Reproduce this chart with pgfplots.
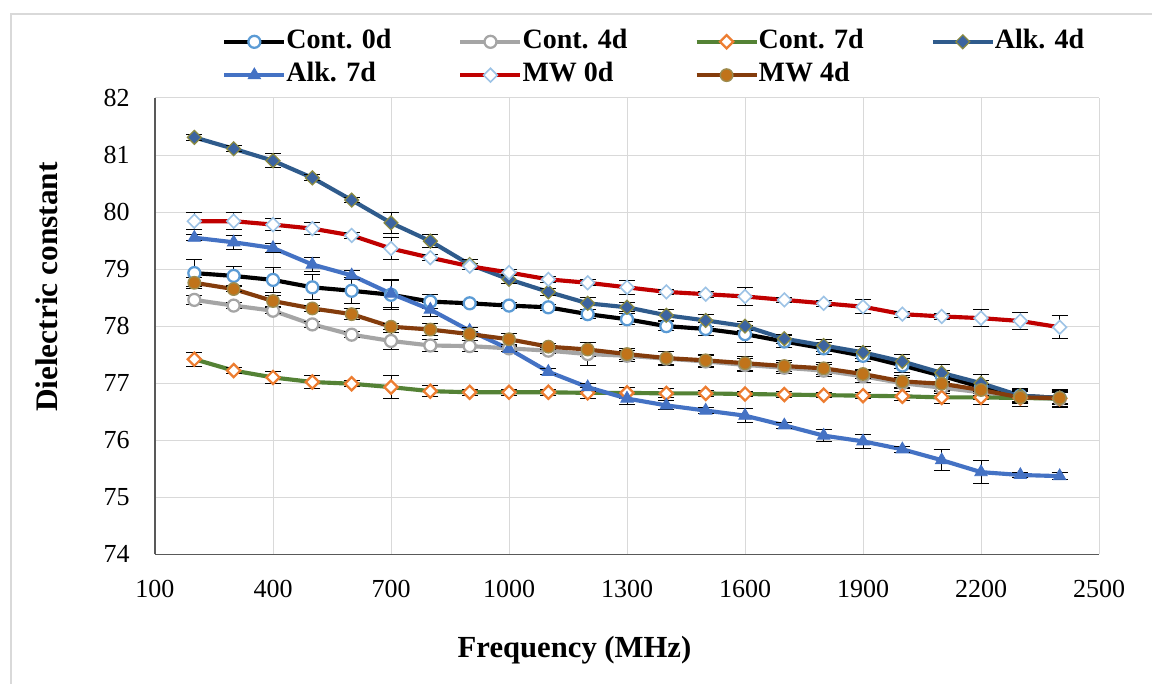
\documentclass[border=0pt]{standalone}
\usepackage{fontspec}
\setmainfont{Liberation Serif}
\usepackage{pgfplots}
\pgfplotsset{compat=1.18}
\usepackage{pgfplotstable}

\definecolor{gridc}{HTML}{D9D9D9}
\definecolor{axc}{HTML}{595959}
\definecolor{framec}{HTML}{D9D9D9}
\definecolor{c0mark}{HTML}{5B9BD5}
\definecolor{c4line}{HTML}{A5A5A5}
\definecolor{c7line}{HTML}{548235}
\definecolor{c7mark}{HTML}{ED7D31}
\definecolor{a4line}{HTML}{2F5B8C}
\definecolor{a4mark}{HTML}{3C64A0}
\definecolor{a4edge}{HTML}{8A8A40}
\definecolor{a7line}{HTML}{4472C4}
\definecolor{m0line}{HTML}{C00000}
\definecolor{m0mark}{HTML}{9DC3E6}
\definecolor{m4line}{HTML}{843C0C}
\definecolor{m4mark}{HTML}{C0731A}
\definecolor{m4edge}{HTML}{9C8C50}

\pgfplotstableread{
x c0 c0e c4 c4e c7 c7e a4 a4e a7 a7e m0 m0e m4 m4e
200 78.93 0.23 78.46 0.08 77.42 0.12 81.31 0.05 79.55 0.05 79.84 0.15 78.76 0.10
300 78.88 0.17 78.36 0.05 77.22 0.05 81.11 0.05 79.47 0.12 79.84 0.15 78.65 0.05
400 78.81 0.22 78.27 0.05 77.10 0.10 80.90 0.12 79.37 0.08 79.78 0.10 78.44 0.10
500 78.68 0.22 78.03 0.05 77.02 0.12 80.60 0.05 79.08 0.13 79.71 0.10 78.31 0.05
600 78.62 0.23 77.85 0.05 76.99 0.05 80.21 0.05 78.89 0.08 79.59 0.05 78.21 0.10
700 78.55 0.25 77.74 0.15 76.93 0.20 79.81 0.18 78.57 0.25 79.36 0.20 77.99 0.05
800 78.43 0.12 77.66 0.10 76.86 0.10 79.49 0.12 78.29 0.12 79.20 0.05 77.94 0.10
900 78.40 0.04 77.65 0.10 76.84 0.05 79.08 0.08 77.92 0.05 79.05 0.05 77.86 0.05
1000 78.36 0.05 77.61 0.05 76.84 0.05 78.82 0.08 77.60 0.05 78.94 0.05 77.77 0.10
1100 78.33 0.05 77.57 0.05 76.84 0.05 78.60 0.06 77.20 0.05 78.82 0.05 77.64 0.05
1200 78.21 0.08 77.51 0.20 76.83 0.10 78.40 0.10 76.93 0.07 78.76 0.05 77.59 0.12
1300 78.12 0.10 77.48 0.10 76.83 0.10 78.33 0.08 76.73 0.10 78.68 0.12 77.51 0.10
1400 78.00 0.08 77.43 0.12 76.82 0.08 78.19 0.10 76.61 0.08 78.60 0.05 77.44 0.12
1500 77.95 0.12 77.38 0.10 76.82 0.05 78.10 0.10 76.52 0.05 78.56 0.05 77.40 0.10
1600 77.86 0.15 77.32 0.12 76.81 0.05 78.00 0.08 76.43 0.12 78.52 0.15 77.35 0.12
1700 77.73 0.10 77.27 0.10 76.80 0.05 77.78 0.08 76.26 0.05 78.46 0.05 77.30 0.10
1800 77.61 0.10 77.22 0.10 76.79 0.05 77.66 0.10 76.08 0.10 78.40 0.05 77.26 0.10
1900 77.48 0.10 77.12 0.10 76.78 0.05 77.54 0.10 75.98 0.12 78.34 0.12 77.16 0.08
2000 77.31 0.12 77.00 0.10 76.77 0.08 77.38 0.12 75.84 0.05 78.21 0.05 77.03 0.10
2100 77.13 0.10 76.92 0.10 76.75 0.10 77.18 0.15 75.65 0.18 78.17 0.05 76.99 0.12
2200 76.93 0.12 76.84 0.12 76.75 0.12 77.00 0.15 75.44 0.20 78.14 0.15 76.88 0.10
2300 76.78 0.10 76.76 0.12 76.74 0.15 76.78 0.12 75.39 0.05 78.09 0.15 76.75 0.10
2400 76.74 0.10 76.72 0.15 76.73 0.10 76.74 0.12 75.37 0.06 77.98 0.20 76.74 0.15
}\datatable

\begin{document}
\begin{tikzpicture}
\useasboundingbox[fill=white] (0,0) rectangle (864pt,513pt);
\draw[framec, line width=2.2pt] (8.25pt,0pt) -- (8.25pt,502.5pt) -- (870pt,502.5pt);
\begin{axis}[
  at={(116.25pt,97.3pt)}, anchor=south west,
  scale only axis, width=708pt, height=342.2pt,
  xmin=100, xmax=2500, ymin=74, ymax=82,
  xtick={100,400,...,2500}, ytick={74,75,...,82},
  major tick length=0pt,
  axis x line*=bottom, axis y line*=left,
  axis line style={-, draw=axc, line width=1.1pt},
  grid=major, major grid style={gridc, line width=0.75pt},
  /pgf/number format/assume math mode=true,
  /pgf/number format/set thousands separator={},
  ticklabel style={font=\fontsize{19.5}{22}\selectfont, inner sep=0pt},
  yticklabel style={anchor=east, xshift=-18.75pt},
  xticklabel style={anchor=north, yshift=-19.3pt},
  xlabel={\textbf{Frequency (MHz)}},
  ylabel={\textbf{Dielectric constant}},
  xlabel style={font=\fontsize{23}{27}\selectfont, at={(axis description cs:0.4444,-0.2097)}, anchor=center},
  ylabel style={font=\fontsize{23.5}{27}\selectfont, at={(axis description cs:-0.1144,0.5855)}, anchor=center},
  legend columns=4,
  legend style={at={(axis description cs:0.071,1.150)}, anchor=north west, draw=none, fill=none,
    font=\fontsize{21}{24}\selectfont\bfseries, inner sep=0pt, row sep=7pt,
    nodes={inner sep=0pt, text height=14pt, text depth=4pt},
    /tikz/every odd column/.append style={column sep=0pt}},
  legend image code/.code={\draw[mark repeat=2,mark phase=2,#1] plot coordinates {(0pt,0pt) (22.5pt,0pt) (45pt,0pt)};},
  error bars/y dir=both, error bars/y explicit,
  error bars/error bar style={black, line width=0.75pt, solid},
  error bars/error mark options={black, line width=0.75pt, mark size=6pt, rotate=90},
  every axis plot/.append style={line width=3.1pt},
]
\addplot[black, mark=*, mark size=4.5pt, mark options={solid, fill=white, draw=c0mark, line width=1.7pt}]
  table[x=x, y=c0, y error=c0e] {\datatable};
\addlegendentry{\makebox[129pt][l]{Cont. 0d}}
\addplot[c4line, mark=*, mark size=4.5pt, mark options={solid, fill=white, draw=c4line, line width=1.7pt}]
  table[x=x, y=c4, y error=c4e] {\datatable};
\addlegendentry{\makebox[129pt][l]{Cont. 4d}}
\addplot[c7line, mark=square*, mark size=3.5pt, mark options={solid, rotate=45, fill=white, draw=c7mark, line width=1.7pt}]
  table[x=x, y=c7, y error=c7e] {\datatable};
\addlegendentry{\makebox[129pt][l]{Cont. 7d}}
\addplot[a4line, mark=square*, mark size=3.7pt, mark options={solid, rotate=45, fill=a4mark, draw=a4edge, line width=0.9pt}]
  table[x=x, y=a4, y error=a4e] {\datatable};
\addlegendentry{Alk. 4d}
\addplot[a7line, mark=triangle*, mark size=5.4pt, mark options={solid, fill=a7line, draw=a7line, line width=0.6pt}]
  table[x=x, y=a7, y error=a7e] {\datatable};
\addlegendentry{\makebox[129pt][l]{Alk. 7d}}
\addplot[m0line, mark=square*, mark size=3.6pt, mark options={solid, rotate=45, fill=white, draw=m0mark, line width=1.2pt}]
  table[x=x, y=m0, y error=m0e] {\datatable};
\addlegendentry{\makebox[129pt][l]{MW 0d}}
\addplot[m4line, mark=*, mark size=4.7pt, mark options={solid, fill=m4mark, draw=m4edge, line width=1pt}]
  table[x=x, y=m4, y error=m4e] {\datatable};
\addlegendentry{\makebox[129pt][l]{MW 4d}}
\end{axis}
\end{tikzpicture}
\end{document}
